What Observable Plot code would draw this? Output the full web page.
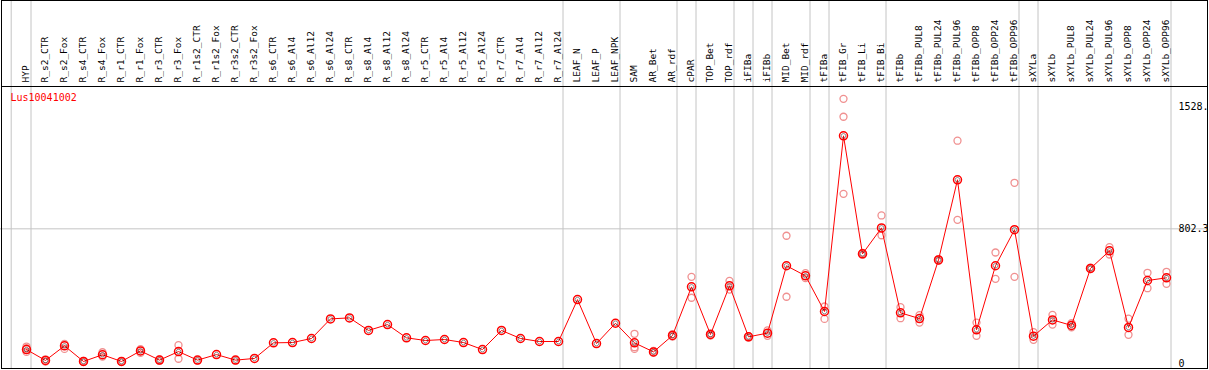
<!DOCTYPE html>
<html><head><meta charset="utf-8">
<script src="https://cdn.jsdelivr.net/npm/d3@7"></script>
<script src="https://cdn.jsdelivr.net/npm/@observablehq/plot@0.6"></script>
<style>body{margin:0;background:#fff} svg{display:block}</style>
</head><body><div id="chart"></div>
<script>
const categories = ["HYP","R_s2_CTR","R_s2_Fox","R_s4_CTR","R_s4_Fox","R_r1_CTR","R_r1_Fox","R_r3_CTR","R_r3_Fox","R_r1s2_CTR","R_r1s2_Fox","R_r3s2_CTR","R_r3s2_Fox","R_s6_CTR","R_s6_Al4","R_s6_Al12","R_s6_Al24","R_s8_CTR","R_s8_Al4","R_s8_Al12","R_s8_Al24","R_r5_CTR","R_r5_Al4","R_r5_Al12","R_r5_Al24","R_r7_CTR","R_r7_Al4","R_r7_Al12","R_r7_Al24","LEAF_N","LEAF_P","LEAF_NPK","SAM","AR_Bet","AR_rdf","cPAR","TOP_Bet","TOP_rdf","iFIBa","iFIBb","MID_Bet","MID_rdf","tFIBa","tFIB_Gr","tFIB_Li","tFIB_Bi","tFIBb","tFIBb_PUL8","tFIBb_PUL24","tFIBb_PUL96","tFIBb_OPP8","tFIBb_OPP24","tFIBb_OPP96","sXYLa","sXYLb","sXYLb_PUL8","sXYLb_PUL24","sXYLb_PUL96","sXYLb_OPP8","sXYLb_OPP24","sXYLb_OPP96"];
const means = [82,17,104,11,51,11,74,19,70,19,52,19,29,122,124,148,265,271,196,231,152,136,142,124,82,196,148,130,130,380,118,239,122,68,166,456,172,462,158,180,582,522,309,1357,653,808,301,267,617,1095,200,582,797,162,259,226,566,671,214,494,510];
const replicates = [[100,90,68],[10,24],[116,86],[8,14],[66,40],[9,13],[84,62],[15,23],[108,27],[16],[],[17],[],[],[],[],[],[],[],[],[],[],[],[],[],[],[],[],[],[],[],[],[176,96,86],[62,74],[160,174],[516,391],[166,178],[492,440],[154,162],[196,164],[761,397],[538,508],[339,265],[1578,1471,1011],[648,658],[882,764],[335,269],[287,243],[612,622],[1328,856],[243,164],[661,504],[1077,516],[186,140],[289,231],[239,215],[562,570],[693,649],[266,170],[540,448],[546,474]];
const groupEnds = ["HYP","R_r7_Al24","LEAF_NPK","AR_rdf","cPAR","TOP_rdf","iFIBa","iFIBb","MID_rdf","tFIBa","tFIB_Bi","tFIBb_OPP96","sXYLa","sXYLb_OPP96"];
const yTicks = [0, 802.3, 1528];
const yTickLabels = ["0", "802.3", "1528."];
const title = "Lus10041002";

const meanData = categories.map((c, i) => ({cat: c, v: means[i]}));
const repData = categories.flatMap((c, i) => replicates[i].map(v => ({cat: c, v})));

const chart = Plot.plot({
  width: 1209, height: 370,
  marginTop: 86, marginBottom: 2, marginLeft: 1, marginRight: 39,
  x: {type: "point", domain: categories, range: [26, 1166.6], padding: 0, axis: null},
  y: {domain: [0, 1528], range: [362.8, 106.7], axis: null},
  style: {fontFamily: "'DejaVu Sans Mono', monospace", fontSize: "9.5px", background: "#fff", color: "#000"},
  marks: [
    Plot.ruleY([802.3], {stroke: "#c4c4c4", insetLeft: -1, insetRight: -37}),
    Plot.ruleX(groupEnds, {x: d => d, dx: 4.5, stroke: "#c4c4c4", insetTop: -86}),
    Plot.ruleX([categories[0]], {x: d => d, dx: -15.3, stroke: "#c4c4c4", insetTop: -86}),
    Plot.frame({stroke: "#000", insetTop: -86, insetRight: -37}),
    Plot.frame({stroke: "#000", insetTop: -86, insetRight: -37, insetBottom: 282}),
    Plot.text(categories, {x: d => d, text: d => d, frameAnchor: "top", dy: -4, dx: -1, rotate: -90, textAnchor: "start", lineAnchor: "middle", fill: "#000"}),
    Plot.text([title], {frameAnchor: "top-left", dx: 9, dy: 11, textAnchor: "start", lineAnchor: "middle", fill: "#ff0000", fontSize: 10}),
    Plot.text(yTicks, {y: d => d, text: (d, i) => yTickLabels[i], frameAnchor: "right", dx: 8, textAnchor: "start", lineAnchor: "middle", fill: "#000", fontSize: 10}),
    Plot.dot(repData, {x: "cat", y: "v", r: 3.5, stroke: "#f09090", strokeWidth: 1.3, fill: "none"}),
    Plot.line(meanData, {x: "cat", y: "v", stroke: "#ff0000", strokeWidth: 1}),
    Plot.dot(meanData, {x: "cat", y: "v", r: 4, stroke: "#ff0000", strokeWidth: 1.5, fill: "none"}),
    Plot.dot(meanData, {x: "cat", y: "v", r: 2.3, stroke: "#000", strokeWidth: 0.7, strokeOpacity: 0.6, fill: "none"})
  ]
});
document.getElementById("chart").appendChild(chart);
</script>
</body></html>
